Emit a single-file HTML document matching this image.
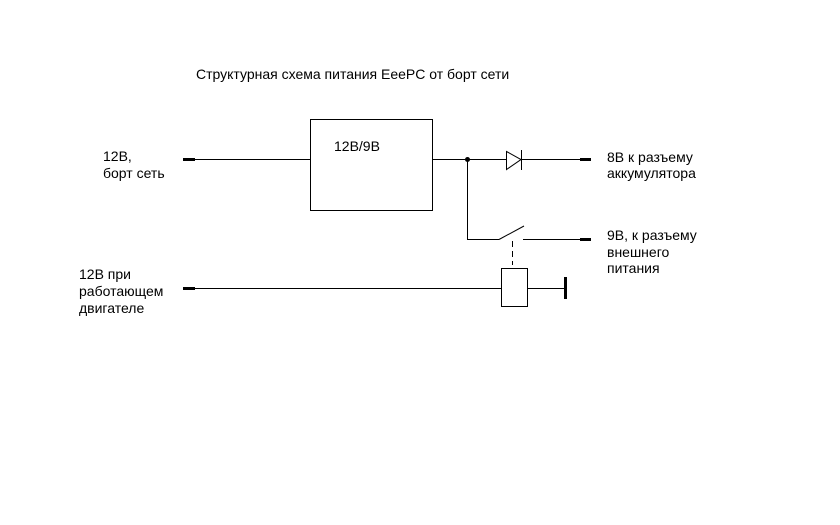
<html><body style="margin:0;width:840px;height:525px;background:#fff;overflow:hidden">
<svg width="840" height="525" style="position:absolute;left:0;top:0" font-family="Liberation Sans, sans-serif" font-size="14" fill="#000">
<text x="196" y="79">Структурная схема питания EeePC от борт сети</text>
<text x="103" y="161">12В,</text>
<text x="103" y="178">борт сеть</text>
<text x="334" y="151">12В/9В</text>
<text x="607" y="162">8В к разъему</text>
<text x="607" y="178">аккумулятора</text>
<text x="607" y="240">9В, к разъему</text>
<text x="607" y="257">внешнего</text>
<text x="607" y="273">питания</text>
<text x="79" y="279">12В при</text>
<text x="79" y="296">работающем</text>
<text x="79" y="313">двигателе</text>
<g stroke="#000" fill="none" stroke-width="1">
<rect x="310.5" y="119.5" width="122" height="91"/>
<line x1="183" y1="159.5" x2="310" y2="159.5"/>
<line x1="432" y1="159.5" x2="590" y2="159.5"/>
<polygon points="506.5,151.5 506.5,169.5 521,159.5" fill="#fff"/>
<line x1="521.5" y1="150" x2="521.5" y2="170"/>
<line x1="467.5" y1="159" x2="467.5" y2="239.5"/>
<line x1="467" y1="239.5" x2="499" y2="239.5"/>
<line x1="499" y1="239.5" x2="524" y2="226"/>
<line x1="523" y1="239.5" x2="590" y2="239.5"/>
<line x1="512.5" y1="241" x2="512.5" y2="265" stroke-dasharray="6,4"/>
<rect x="501.5" y="268.5" width="26" height="38" fill="#fff"/>
<line x1="183" y1="288.5" x2="501" y2="288.5"/>
<line x1="527" y1="288.5" x2="565" y2="288.5"/>
</g>
<g stroke="#000" stroke-width="3">
<line x1="183" y1="159.5" x2="195" y2="159.5"/>
<line x1="580" y1="159.5" x2="591" y2="159.5"/>
<line x1="580" y1="239.5" x2="591" y2="239.5"/>
<line x1="183" y1="288.5" x2="195" y2="288.5"/>
<line x1="565.5" y1="277" x2="565.5" y2="299"/>
</g>
<circle cx="467.5" cy="159.5" r="2.5"/>
</svg>
</body></html>
